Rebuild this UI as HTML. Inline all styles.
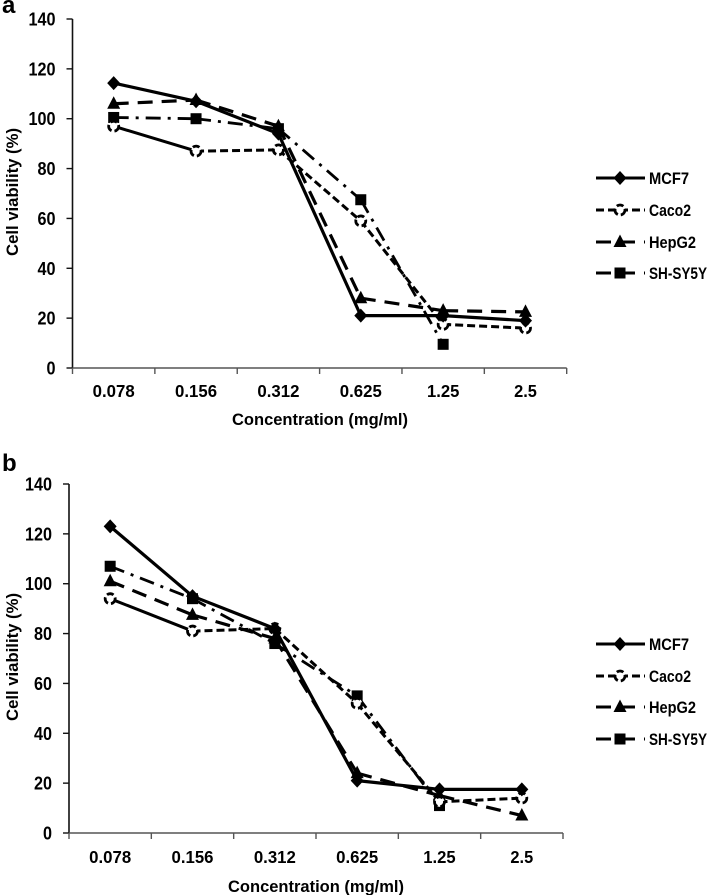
<!DOCTYPE html>
<html>
<head>
<meta charset="utf-8">
<style>
html,body{margin:0;padding:0;background:#fff;}
svg{display:block;}
text{font-family:"Liberation Sans",sans-serif;font-weight:bold;fill:#000;}
</style>
</head>
<body>
<svg id="figure" xmlns="http://www.w3.org/2000/svg" width="708" height="895" viewBox="0 0 708 895"></svg>
<script>
const categories = ["0.078","0.156","0.312","0.625","1.25","2.5"];
const yTickLabels = [0,20,40,60,80,100,120,140];
const seriesNames = ["MCF7","Caco2","HepG2","SH-SY5Y"];

const mcf7A = [114.3,107,94,21,21,19];
const caco2A = [97,87,87.5,59,17.5,16];
const hepg2A = [106,107.5,97,28,23,22.5];
const shsy5yA = [100.5,100,96,67.5,9.5,null];

const mcf7B = [123,95,82,21,17.5,17.5];
const caco2B = [94,81,82,52,12.5,14];
const hepg2B = [101,87.5,78,24,15,7];
const shsy5yB = [107,94,76,55,11,null];

const NS = "http://www.w3.org/2000/svg";
const root = document.getElementById("figure");

function make(parent, tag, attrs, txt) {
  const el = document.createElementNS(NS, tag);
  for (const k in attrs) el.setAttribute(k, attrs[k]);
  if (txt !== undefined) el.textContent = txt;
  parent.appendChild(el);
  return el;
}

const dashStyles = { MCF7: "", Caco2: "8 4", HepG2: "15 9", "SH-SY5Y": "15 7 3 7" };
const widths = { MCF7: 3.2, Caco2: 3, HepG2: 3.2, "SH-SY5Y": 2.8 };

function drawMarker(group, name, cx, cy) {
  let m;
  if (name === "MCF7") {
    m = make(group, "polygon", { points: [cx, cy-7, cx+6.5, cy, cx, cy+7, cx-6.5, cy].join(","), fill: "#000" });
  } else if (name === "Caco2") {
    m = make(group, "circle", { cx: cx, cy: cy, r: 5, fill: "#fff", stroke: "#000", "stroke-width": 2.8, "stroke-dasharray": "7 3" });
  } else if (name === "HepG2") {
    m = make(group, "polygon", { points: [cx, cy-7.5, cx+6.5, cy+5, cx-6.5, cy+5].join(","), fill: "#000" });
  } else {
    m = make(group, "rect", { x: cx-5.5, y: cy-5.5, width: 11, height: 11, fill: "#000" });
  }
  
  
}

function drawPanel(p) {
  const panel = make(root, "g", {});
  
  

  const yScale = v => p.y0 + (p.y140 - p.y0) * v / 140;
  const step = (p.xEnd - p.xAxis) / categories.length;
  const xScale = i => p.xAxis + step * (i + 0.5);

  const letter = make(panel, "text", { x: 2, y: p.letterY, "font-size": 24 }, p.letter);
  
  

  const yAxis = make(panel, "line", { x1: p.xAxis, x2: p.xAxis, y1: yScale(140), y2: yScale(0), stroke: "#111", "stroke-width": 1.6 });
  
  

  const xAxis = make(panel, "line", { x1: p.xAxis, x2: p.xEnd, y1: yScale(0), y2: yScale(0), stroke: "#555", "stroke-width": 1.6 });
  
  

  yTickLabels.forEach(v => {
    const t = make(panel, "line", { x1: p.xAxis - 6, x2: p.xAxis, y1: yScale(v), y2: yScale(v), stroke: "#111", "stroke-width": 1.4 });
    
    
    const l = make(panel, "text", { x: p.xAxis - 17, y: yScale(v) + 6.5, "font-size": 18, "text-anchor": "end", textLength: String(v).length * 9, lengthAdjust: "spacingAndGlyphs" }, v);
    
    
  });

  for (let i = 0; i <= categories.length; i++) {
    const x = p.xAxis + step * i;
    const t = make(panel, "line", { x1: x, x2: x, y1: yScale(0), y2: yScale(0) + 6, stroke: "#555", "stroke-width": 1.4 });
    
    
  }
  categories.forEach((c, i) => {
    const l = make(panel, "text", { x: xScale(i), y: yScale(0) + p.tickLabelOffset, "font-size": 17.5, "text-anchor": "middle", textLength: (c.length - 1) * 9.6 + 3.6, lengthAdjust: "spacingAndGlyphs" }, c);
    
    
  });

  const xTitle = make(panel, "text", { x: p.xTitleX, y: yScale(0) + p.titleOffset, "font-size": 17, "text-anchor": "middle", textLength: 176, lengthAdjust: "spacingAndGlyphs" }, "Concentration (mg/ml)");
  
  

  const yTitle = make(panel, "text", { x: 0, y: 0, "font-size": 16.5, "text-anchor": "middle", textLength: 128, lengthAdjust: "spacingAndGlyphs", transform: "translate(18," + p.yTitleY + ") rotate(-90)" }, "Cell viability (%)");
  
  

  [3, 2, 1, 0].forEach(si => {
    const name = seriesNames[si];
    const vals = p.series[si];
    const g = make(panel, "g", {});
    
    
    for (let i = 0; i < vals.length - 1; i++) {
      if (vals[i] === null || vals[i + 1] === null) continue;
      const solidFirst = name === "Caco2" && i === 0;
      const seg = make(g, "line", {
        x1: xScale(i), y1: yScale(vals[i]), x2: xScale(i + 1), y2: yScale(vals[i + 1]),
        stroke: "#000", "stroke-width": widths[name],
        "stroke-dasharray": solidFirst ? "" : dashStyles[name]
      });
      
      
    }
    vals.forEach((v, i) => {
      if (v !== null) drawMarker(g, name, xScale(i), yScale(v));
    });
  });

  seriesNames.forEach((name, i) => {
    const ly = p.legendY[i];
    const g = make(panel, "g", {});
    
    
    const ln = make(g, "line", { x1: 596, x2: 645, y1: ly, y2: ly, stroke: "#000", "stroke-width": 3, "stroke-dasharray": i === 0 ? "" : (i === 1 ? "8 4" : "15 9") });
    
    
    drawMarker(g, name, 620, ly);
    const t = make(g, "text", { x: 649, y: ly + 6, "font-size": 16.5, textLength: p.legendLen[i], lengthAdjust: "spacingAndGlyphs" }, name);
    
    
  });
}

drawPanel({
  letter: "a", letterY: 13, xAxis: 72.5, xEnd: 566.7, y0: 368, y140: 19,
  xTitleX: 320, yTitleY: 192, tickLabelOffset: 29, titleOffset: 57,
  series: [mcf7A, caco2A, hepg2A, shsy5yA],
  legendY: [178, 210, 242, 273], legendLen: [40, 42, 47, 58]
});
drawPanel({
  letter: "b", letterY: 471, xAxis: 69, xEnd: 563, y0: 833, y140: 484,
  xTitleX: 316, yTitleY: 657, tickLabelOffset: 30, titleOffset: 59,
  series: [mcf7B, caco2B, hepg2B, shsy5yB],
  legendY: [644, 676, 707, 739], legendLen: [40, 42, 47, 58]
});
</script>
</body>
</html>
